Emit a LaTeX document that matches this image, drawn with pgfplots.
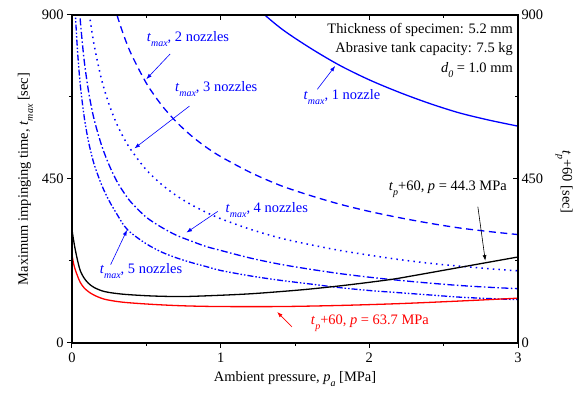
\documentclass[border=0pt]{standalone}
\usepackage{fontspec}
\setmainfont{Liberation Serif}
\usepackage{pgfplots}
\usepackage{pgfplotstable}
\pgfplotsset{compat=1.18}
\usetikzlibrary{arrows.meta}

\definecolor{nblue}{RGB}{0,0,255}
\definecolor{nred}{RGB}{255,0,0}
\newcommand{\sub}[1]{\raisebox{-0.75ex}{\fontsize{10}{10}\selectfont\textit{#1}}}
\newcommand{\tmax}{\textit{t}\sub{max}}
\newcommand{\tp}{\textit{t}\sub{p}}

% maximum impinging time for 1..5 nozzles
\pgfplotstableread{
x     t1    t2     t3    t4     t5
0.01  5190  2595   1730  1297.5 1038
0.02  4642  2321   1547  1160.5 928
0.03  4238  2119   1413  1059.5 848
0.04  3923  1962   1308  981    785
0.05  3670  1835   1223  917.5  734
0.06  3460  1730   1153  865    692
0.08  3129  1565   1043  782    626
0.10  2879  1440   960   720    576
0.12  2680  1340   893   670    536
0.15  2446  1223   815   611.5  489
0.20  2164  1082   721   541    433
0.25  1961  980    654   488    390
0.30  1807  903.5  602   445    355
0.35  1684  842    561   412    322
0.40  1583  791.5  528   385    301
0.50  1426  713    475   345    272
0.60  1308  654    436   318    250
0.70  1215  607.5  405   296    234
0.80  1139  569.5  380   280    221
0.90  1076  538    359   265    210
1.00  1023  511.5  341   254    199
1.20  936   468    312   233    184
1.40  865   432.5  288   216    172
1.60  810   405    270   202.5  162
1.80  762   381    254   190.5  152
2.00  722   361    241   180.5  144
2.20  688   344    229   172    138
2.40  658   329    219   164.5  132
2.60  632   316    211   158    126
2.80  612   306    204   153    122
3.00  595   297.5  198   149    119
}\nozzles

\begin{document}
\begin{tikzpicture}[font=\fontsize{14.5}{17}\selectfont]
\begin{axis}[name=ax, width=446bp, height=328bp, scale only axis,
  xmin=0, xmax=3, ymin=0, ymax=900,
  xtick={0,1,2,3}, minor xtick={0.5,1.5,2.5},
  ytick={0,450,900}, minor ytick={225,675},
  tick align=outside, xtick pos=left, ytick pos=left,
  major tick length=5bp, minor tick length=3bp,
  axis line style={line width=1.2bp},
  every tick/.style={black, line width=1bp},
  /pgf/number format/assume math mode=true,
  xticklabel style={yshift=-1bp},
  xlabel={Ambient pressure, \textit{p}\sub{a} [MPa]},
  ylabel={Maximum impinging time, \tmax{} [sec]},
  xlabel style={yshift=-2bp},
  ylabel style={yshift=2bp}]

\addplot[nblue, line width=1.3bp, smooth] table[x=x, y=t1] {\nozzles};
\addplot[nblue, line width=1.3bp, smooth, dash pattern=on 7bp off 4.5bp] table[x=x, y=t2] {\nozzles};
\addplot[nblue, line width=1.5bp, smooth, dash pattern=on 1.5bp off 4.2bp] table[x=x, y=t3] {\nozzles};
\addplot[nblue, line width=1.3bp, smooth, dash pattern=on 7bp off 2.5bp on 1.5bp off 2.5bp] table[x=x, y=t4] {\nozzles};
\addplot[nblue, line width=1.3bp, smooth, dash pattern=on 6bp off 2bp on 1.5bp off 2bp on 1.5bp off 2bp] table[x=x, y=t5] {\nozzles};

% t_p + 60, p = 44.3 MPa
\addplot[black, line width=1.3bp, smooth] coordinates {
(0,310) (0.01,284) (0.022,256) (0.04,222) (0.056,198) (0.08,179) (0.11,164)
(0.15,152) (0.22,141) (0.34,134) (0.54,129) (0.75,127.5) (1.0,131) (1.2,135)
(1.4,141) (1.6,148) (1.85,159) (2.14,174) (2.3,185) (2.52,201) (2.78,220) (3.0,236)};
% t_p + 60, p = 63.7 MPa
\addplot[nred, line width=1.3bp, smooth] coordinates {
(0,242) (0.01,219) (0.022,201) (0.04,181) (0.056,166) (0.08,152) (0.11,141)
(0.15,131) (0.22,120) (0.34,112) (0.54,106) (0.75,102) (1.0,100) (1.4,100)
(1.8,103) (2.2,108) (2.6,115) (3.0,123)};

% annotations
\begin{scope}[-{Latex[length=5.5bp,width=4bp]}, line width=0.6bp]
\draw[nblue] (axis cs:0.66,793) -- (axis cs:0.50,724);
\draw[nblue] (axis cs:0.79,650) -- (axis cs:0.42,534);
\draw[nblue] (axis cs:0.98,361) -- (axis cs:0.77,303);
\draw[nblue] (axis cs:0.26,215) -- (axis cs:0.37,310);
\draw[nblue] (axis cs:1.65,696) -- (axis cs:1.77,760);
\draw[black] (axis cs:2.73,374) -- (axis cs:2.78,226);
\draw[nred]  (axis cs:1.48,44) -- (axis cs:1.38,85);
\end{scope}
\node[nblue] at (axis cs:0.78,834) {\tmax, 2 nozzles};
\node[nblue] at (axis cs:0.97,696) {\tmax, 3 nozzles};
\node[nblue] at (axis cs:1.31,366) {\tmax, 4 nozzles};
\node[nblue] at (axis cs:0.464,198) {\tmax, 5 nozzles};
\node[nblue] at (axis cs:1.816,674) {\tmax, 1 nozzle};
\node[black] at (axis cs:2.528,421) {\tp+60, \textit{p} = 44.3 MPa};
\node[nred]  at (axis cs:2.004,55) {\tp+60, \textit{p} = 63.7 MPa};
\node[anchor=north east, align=right, inner sep=0pt,
  font=\fontsize{14.5}{19.5}\selectfont, xshift=-5bp, yshift=-8bp]
  at (rel axis cs:1,1)
  {Thickness of specimen: 5.2 mm\\Abrasive tank capacity: 7.5 kg\\
   \textit{d}\sub{0} = 1.0 mm};
\end{axis}

\begin{axis}[width=446bp, height=328bp, scale only axis,
  xmin=0, xmax=3, ymin=0, ymax=900,
  xtick={0,1,2,3}, minor xtick={0.5,1.5,2.5},
  ytick={0,450,900}, minor ytick={225,675},
  tick align=inside, xtick pos=right, ytick pos=right,
  yticklabel pos=right, xticklabels={},
  major tick length=5bp, minor tick length=3bp,
  axis line style={line width=1.2bp},
  every tick/.style={black, line width=1bp},
  /pgf/number format/assume math mode=true]
\end{axis}

\node[rotate=-90] at ([xshift=46bp,yshift=-3bp]ax.east) {\tp+60 [sec]};

\pgfresetboundingbox
\path[use as bounding box] ([xshift=-72bp,yshift=-58bp]ax.south west)
  rectangle ([xshift=58bp,yshift=15bp]ax.north east);
\end{tikzpicture}
\end{document}
